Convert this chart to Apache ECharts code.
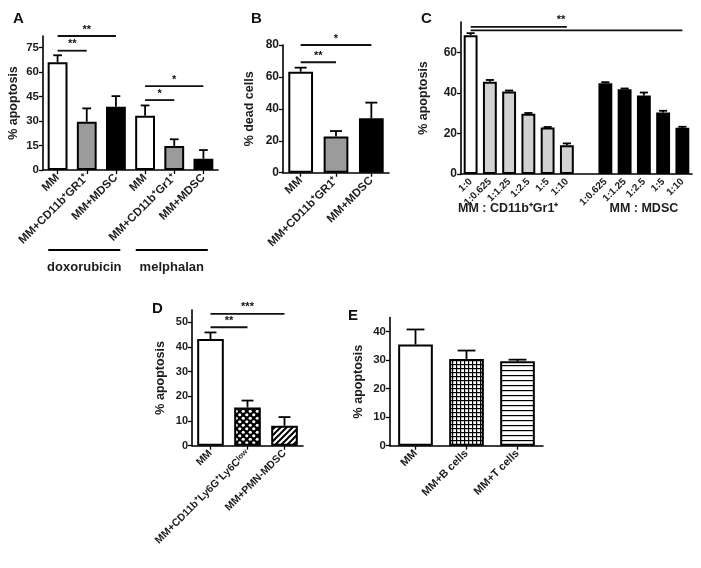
<!DOCTYPE html>
<html><head><meta charset="utf-8">
<script src="https://cdn.jsdelivr.net/npm/echarts@6/dist/echarts.min.js"></script>
<style>html,body{margin:0;padding:0;background:#fff}#c{width:701px;height:568px}</style>
</head><body><div id="c"></div>
<script>
// ---------- DATA ----------
const catsA = ['MM', 'MM+CD11b⁺GR1⁺', 'MM+MDSC', 'MM', 'MM+CD11b⁺Gr1⁺', 'MM+MDSC'];
const valsA = [66, 29.5, 38.7, 33.2, 14.7, 6.9];
const errA  = [4.2, 8.2, 6.5, 6.3, 4.1, 5.3];
const ticksA = [0, 15, 30, 45, 60, 75];
const groupsA = ['doxorubicin', 'melphalan'];
const groupSpanA = [[0, 2], [3, 5]];
const sigA = [[0, 2, 82, '**'], [0, 1, 73, '**'], [3, 5, 51.3, '*'], [3, 4, 42.8, '*']];

const catsB = ['MM', 'MM+CD11b⁺GR1⁺', 'MM+MDSC'];
const valsB = [63.3, 22.6, 34.1];
const errB  = [2.5, 3.5, 9.8];
const ticksB = [0, 20, 40, 60, 80];
const sigB = [[0, 2, 80, '*'], [0, 1, 69.2, '**']];

const catsC = ['1:0', '1:0.625', '1:1.25', '1:2.5', '1:5', '1:10', '', '1:0.625', '1:1.25', '1:2.5', '1:5', '1:10'];
const valsC = [68.5, 45.5, 40.7, 29.7, 22.9, 14.2, null, 44.8, 41.8, 38.7, 30.3, 22.8];
const errC  = [1.0, 0.9, 0.5, 0.4, 0.3, 0.9, null, 0.5, 0.4, 1.5, 0.9, 0.5];
const ticksC = [0, 20, 40, 60];
const groupsC = ['MM : CD11b⁺Gr1⁺', 'MM : MDSC'];
const groupCenterC = [1.95, 9];
const sigC = [[0, 5, 72.6, '**', 4.7], [0, 11, 70.9, '']];

const catsD = ['MM', 'MM+CD11b⁺Ly6G⁺Ly6C^low', 'MM+PMN-MDSC'];
const valsD = [43.2, 15.5, 8.1];
const errD  = [2.7, 2.8, 3.5];
const ticksD = [0, 10, 20, 30, 40, 50];
const sigD = [[0, 2, 53.4, '***'], [0, 1, 48, '**']];

const catsE = ['MM', 'MM+B cells', 'MM+T cells'];
const valsE = [35.5, 30.4, 29.6];
const errE  = [5.3, 3.0, 0.6];
const ticksE = [0, 10, 20, 30, 40];

const panelLetters = ['A', 'B', 'C', 'D', 'E'];

// ---------- STYLE / BUILD ----------
const FONT = '"Liberation Sans", Arial, Helvetica, sans-serif';
const TXT = '#1c1c1c';

function mkPattern(w, h, draw) {
  const c = document.createElement('canvas');
  c.width = w; c.height = h;
  const g = c.getContext('2d');
  draw(g, w, h);
  return { image: c, repeat: 'repeat' };
}
const patDots = mkPattern(7, 7, (g, w, h) => {
  g.fillStyle = '#000'; g.fillRect(0, 0, w, h);
  g.fillStyle = '#fff';
  g.beginPath(); g.arc(1.75, 1.75, 1.6, 0, Math.PI * 2); g.fill();
  g.beginPath(); g.arc(5.25, 5.25, 1.6, 0, Math.PI * 2); g.fill();
});
const patStripe = mkPattern(6, 6, (g, w, h) => {
  g.fillStyle = '#fff'; g.fillRect(0, 0, w, h);
  g.strokeStyle = '#000'; g.lineWidth = 2;
  g.beginPath(); g.moveTo(-1, 7); g.lineTo(7, -1); g.stroke();
  g.beginPath(); g.moveTo(-1, 1); g.lineTo(1, -1); g.stroke();
  g.beginPath(); g.moveTo(5, 7); g.lineTo(7, 5); g.stroke();
});
const patGrid = mkPattern(4, 4, (g, w, h) => {
  g.fillStyle = '#fff'; g.fillRect(0, 0, w, h);
  g.fillStyle = '#000'; g.fillRect(0, 0, w, 1.2); g.fillRect(0, 0, 1.2, h);
});
const patHLine = mkPattern(4, 5, (g, w, h) => {
  g.fillStyle = '#fff'; g.fillRect(0, 0, w, h);
  g.fillStyle = '#000'; g.fillRect(0, 0, w, 1.2);
});

const fillA = ['#fff', '#9b9b9b', '#000', '#fff', '#9b9b9b', '#000'];
const fillB = ['#fff', '#9b9b9b', '#000'];
const fillC = ['#fff', '#d2d2d2', '#d2d2d2', '#d2d2d2', '#d2d2d2', '#d2d2d2', '#fff', '#000', '#000', '#000', '#000', '#000'];
const fillD = ['#fff', patDots, patStripe];
const fillE = ['#fff', patGrid, patHLine];

const grids = [
  { left: 43, top: 36, width: 175, height: 134 },
  { left: 283, top: 45, width: 106, height: 127.7 },
  { left: 461, top: 22, width: 231, height: 152 },
  { left: 192, top: 310, width: 111, height: 135.7 },
  { left: 390, top: 317.5, width: 153, height: 128.2 }
];

function mkX(gi, cats, fs, extra) {
  return Object.assign({
    type: 'category', gridIndex: gi, data: cats,
    axisLine: { lineStyle: { color: '#000', width: 1.6 } },
    axisTick: { show: true, alignWithLabel: true, length: 4, lineStyle: { color: '#000', width: 1.3 } },
    axisLabel: { rotate: 45, interval: 0, fontSize: fs, fontWeight: 'bold', color: TXT, fontFamily: FONT, margin: 6 },
    splitLine: { show: false }
  }, extra || {});
}
function mkY(gi, max, ticks, name, gap, fs) {
  return {
    type: 'value', gridIndex: gi, min: 0, max: max,
    name: name, nameLocation: 'middle', nameGap: gap, nameRotate: 90,
    nameTextStyle: { fontSize: 12.5, fontWeight: 'bold', color: TXT, fontFamily: FONT },
    axisLine: { show: true, lineStyle: { color: '#000', width: 1.6 } },
    axisTick: { show: true, length: 4, customValues: ticks, lineStyle: { color: '#000', width: 1.3 } },
    axisLabel: { customValues: ticks, fontSize: fs, fontWeight: 'bold', color: TXT, fontFamily: FONT, margin: 4 },
    splitLine: { show: false }
  };
}
function barSeries(gi, vals, fills, bw) {
  return {
    type: 'bar', xAxisIndex: gi, yAxisIndex: gi, barWidth: bw, z: 2,
    data: vals.map((v, i) => ({ value: v, itemStyle: { color: fills[i] } })),
    itemStyle: { borderColor: '#000', borderWidth: 2 },
    emphasis: { disabled: true }, silent: true
  };
}
function errSeries(gi, vals, errs, capFrac) {
  const data = [];
  vals.forEach((v, i) => { if (v != null) data.push([i, v, errs[i]]); });
  return {
    type: 'custom', xAxisIndex: gi, yAxisIndex: gi, z: 5, silent: true,
    encode: { x: 0, y: 1 }, data: data,
    renderItem: function (params, api) {
      const d = data[params.dataIndex];
      const p0 = api.coord([d[0], d[1]]);
      const p1 = api.coord([d[0], d[1] + d[2]]);
      const w = api.size([1, 0])[0] * capFrac;
      const st = { stroke: '#000', lineWidth: 1.8 };
      return { type: 'group', children: [
        { type: 'line', shape: { x1: p0[0], y1: p0[1], x2: p1[0], y2: p1[1] }, style: st },
        { type: 'line', shape: { x1: p1[0] - w / 2, y1: p1[1], x2: p1[0] + w / 2, y2: p1[1] }, style: st }
      ] };
    }
  };
}
function sigSeries(gi, list) {
  return {
    type: 'custom', xAxisIndex: gi, yAxisIndex: gi, z: 6, silent: true, clip: false,
    encode: { x: [0, 1], y: 2 }, data: list.map(s => [s[0], s[1], s[2]]),
    renderItem: function (params, api) {
      const s = list[params.dataIndex];
      const band = api.size([1, 0])[0];
      const o = api.coord([0, s[2]]);
      const xa = o[0] + s[0] * band, xb = o[0] + s[1] * band, y = o[1];
      const lf = s[4] != null ? s[4] : (s[0] + s[1]) / 2;
      const lx = o[0] + lf * band;
      return { type: 'group', children: [
        { type: 'line', shape: { x1: xa, y1: y, x2: xb, y2: y }, style: { stroke: '#111', lineWidth: 1.8 } },
        { type: 'text', x: lx, y: y - 1, style: { text: s[3], fill: '#111', font: 'bold 11px ' + FONT,
          align: 'center', verticalAlign: 'bottom', textAlign: 'center', textVerticalAlign: 'bottom' } }
      ] };
    }
  };
}
// group annotations under panel A
const groupSeriesA = {
  type: 'custom', xAxisIndex: 0, yAxisIndex: 0, z: 6, silent: true, clip: false,
  encode: { x: [0, 1], y: 2 }, data: groupSpanA.map(g => [g[0], g[1], 0]),
  renderItem: function (params, api) {
    const g = groupSpanA[params.dataIndex];
    const band = api.size([1, 0])[0];
    const o = api.coord([0, 0]);
    const x1 = o[0] + (g[0] - 0.32) * band, x2 = o[0] + (g[1] + 0.15) * band;
    const y = o[1] + 80;
    return { type: 'group', children: [
      { type: 'line', shape: { x1: x1, y1: y, x2: x2, y2: y }, style: { stroke: '#000', lineWidth: 2.2 } },
      { type: 'text', x: (x1 + x2) / 2, y: y + 17, style: { text: groupsA[params.dataIndex], fill: TXT,
        font: 'bold 13px ' + FONT, align: 'center', verticalAlign: 'middle', textAlign: 'center', textVerticalAlign: 'middle' } }
    ] };
  }
};
const groupSeriesC = {
  type: 'custom', xAxisIndex: 2, yAxisIndex: 2, z: 6, silent: true, clip: false,
  encode: { x: 0, y: 1 }, data: groupCenterC.map(c => [0, 0]),
  renderItem: function (params, api) {
    const band = api.size([1, 0])[0];
    const o = api.coord([0, 0]);
    const x = o[0] + groupCenterC[params.dataIndex] * band;
    return { type: 'text', x: x, y: o[1] + 35, style: { text: groupsC[params.dataIndex], fill: TXT,
      font: 'bold 12.5px ' + FONT, align: 'center', verticalAlign: 'middle', textAlign: 'center', textVerticalAlign: 'middle' } };
  }
};

const letterPos = [[8, 6], [246, 6], [416, 6], [147, 296], [343, 303]];

const option = {
  backgroundColor: '#fff',
  animation: false,
  title: panelLetters.map((t, i) => ({ text: t, left: letterPos[i][0], top: letterPos[i][1],
    textStyle: { fontSize: 15, fontWeight: 'bold', color: '#111', fontFamily: FONT } })),
  grid: grids,
  xAxis: [
    mkX(0, catsA, 11.5),
    mkX(1, catsB, 11.5),
    mkX(2, catsC, 10, { axisTick: { show: false } }),
    mkX(3, catsD, 10.5, { axisLabel: { rotate: 45, interval: 0, fontSize: 10.5, fontWeight: 'bold', color: TXT, fontFamily: FONT, margin: 6,
      formatter: v => v.indexOf('^') >= 0 ? '{n|' + v.split('^')[0] + '}{s|' + v.split('^')[1] + '}' : v,
      rich: { n: { fontSize: 10.5, fontWeight: 'bold', color: TXT, fontFamily: FONT },
              s: { fontSize: 7.5, fontWeight: 'bold', color: TXT, fontFamily: FONT, verticalAlign: 'top' } } } }),
    mkX(4, catsE, 11)
  ],
  yAxis: [
    mkY(0, 82, ticksA, '% apoptosis', 23, 11.5),
    mkY(1, 80, ticksB, '% dead cells', 27, 12),
    mkY(2, 75, ticksC, '% apoptosis', 31, 12),
    mkY(3, 55, ticksD, '% apoptosis', 25, 11),
    mkY(4, 45, ticksE, '% apoptosis', 25, 11.5)
  ],
  series: [
    barSeries(0, valsA, fillA, '68%'),
    errSeries(0, valsA, errA, 0.3),
    sigSeries(0, sigA),
    groupSeriesA,
    barSeries(1, valsB, fillB, '70%'),
    errSeries(1, valsB, errB, 0.34),
    sigSeries(1, sigB),
    barSeries(2, valsC, fillC, '72%'),
    errSeries(2, valsC, errC, 0.42),
    sigSeries(2, sigC),
    groupSeriesC,
    barSeries(3, valsD, fillD, '72%'),
    errSeries(3, valsD, errD, 0.32),
    sigSeries(3, sigD),
    barSeries(4, valsE, fillE, '68%'),
    errSeries(4, valsE, errE, 0.35)
  ]
};
const chart = echarts.init(document.getElementById('c'), null, { renderer: 'canvas' });
chart.setOption(option);
</script>
</body></html>
